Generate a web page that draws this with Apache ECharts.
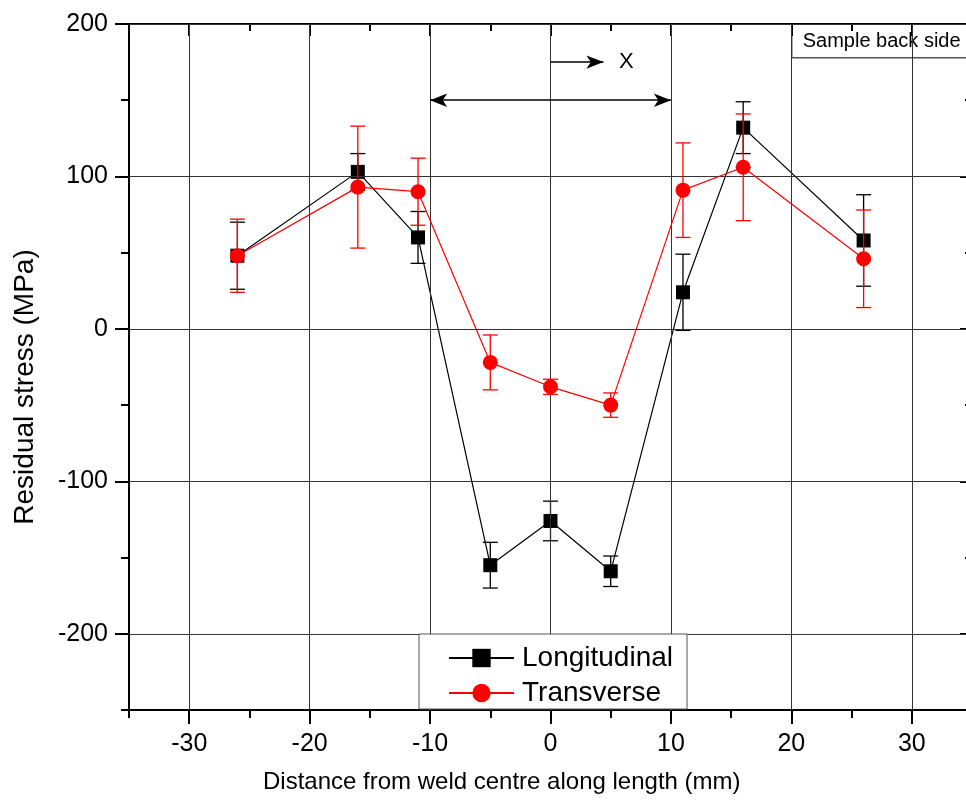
<!DOCTYPE html>
<html>
<head>
<meta charset="utf-8">
<script src="https://cdn.jsdelivr.net/npm/echarts@6/dist/echarts.min.js"></script>
<style>
html,body{margin:0;padding:0;background:#fff;}
#chart{width:966px;height:807px;}
</style>
</head>
<body>
<div id="chart"></div>
<script>
// ---- data ----
var xPositions = [-26, -16, -11, -5, 0, 5, 11, 16, 26];
var longitudinal = [48, 103, 60, -155, -126, -159, 24, 132, 58];
var longitudinalErr = [22, 12, 17, 15, 13, 10, 25, 17, 30];
var transverse = [48, 93, 90, -22, -38, -50, 91, 106, 46];
var transverseErr = [24, 40, 22, 18, 5, 8, 31, 35, 32];

var xMajorTicks = [-30, -20, -10, 0, 10, 20, 30];
var xMinorTicks = [-35, -25, -15, -5, 5, 15, 25, 35];
var yMajorTicks = [-200, -100, 0, 100, 200];
var yMinorTicks = [-250, -150, -50, 50, 150];

var weldZone = [-10, 10];      // double arrow span
var weldZoneY = 150;
var xArrow = [0, 4.4];        // short arrow "X"
var xArrowY = 175;
var xLabelPos = [6.3, 175];

var FONT = '"Liberation Sans", Arial, sans-serif';

function pairs(xs, ys) { return xs.map(function (x, i) { return [x, ys[i]]; }); }
function errData(xs, ys, es) { return xs.map(function (x, i) { return [x, ys[i] - es[i], ys[i] + es[i]]; }); }

function errRender(color) {
  return function (params, api) {
    var x = api.value(0), lo = api.value(1), hi = api.value(2);
    var a = api.coord([x, lo]), b = api.coord([x, hi]);
    var w = 7.5;
    var st = { stroke: color, lineWidth: 1.3 };
    return {
      type: 'group',
      children: [
        { type: 'line', shape: { x1: a[0], y1: a[1], x2: b[0], y2: b[1] }, style: st },
        { type: 'line', shape: { x1: a[0] - w, y1: a[1], x2: a[0] + w, y2: a[1] }, style: st },
        { type: 'line', shape: { x1: b[0] - w, y1: b[1], x2: b[0] + w, y2: b[1] }, style: st }
      ]
    };
  };
}

var gridPos = { left: 129, right: -6, top: 24, bottom: 97, outerBoundsMode: 'none', containLabel: false };
var axisLineStyle = { color: '#000', width: 2 };

var chart = echarts.init(document.getElementById('chart'), null, { renderer: 'canvas' });

var option = {
  animation: false,
  backgroundColor: '#fff',
  grid: [
    Object.assign({}, gridPos),
    Object.assign({}, gridPos)
  ],
  xAxis: [
    { // main bottom
      type: 'value', gridIndex: 0, position: 'bottom', min: -35, max: 35, interval: 5,
      axisLine: { show: true, onZero: false, lineStyle: axisLineStyle },
      axisTick: { show: true, inside: false, length: 14, customValues: xMajorTicks, lineStyle: { color: '#000', width: 2 } },
      axisLabel: { show: true, customValues: xMajorTicks, margin: 22, color: '#000', fontSize: 25, fontFamily: FONT },
      splitLine: { show: true, lineStyle: { color: '#999', type: [1, 3], width: 1 } }
    },
    { // main top
      type: 'value', gridIndex: 0, position: 'top', min: -35, max: 35, interval: 5,
      axisLine: { show: true, onZero: false, lineStyle: axisLineStyle },
      axisTick: { show: true, inside: true, length: 12, customValues: xMajorTicks, lineStyle: { color: '#000', width: 2 } },
      axisLabel: { show: false },
      splitLine: { show: false }
    },
    { // minor bottom
      type: 'value', gridIndex: 1, position: 'bottom', min: -35, max: 35, interval: 5,
      axisLine: { show: false, onZero: false },
      axisTick: { show: true, inside: false, length: 8, customValues: xMinorTicks, lineStyle: { color: '#000', width: 2 } },
      axisLabel: { show: false },
      splitLine: { show: false }
    },
    { // minor top
      type: 'value', gridIndex: 1, position: 'top', min: -35, max: 35, interval: 5,
      axisLine: { show: false, onZero: false },
      axisTick: { show: true, inside: true, length: 7, customValues: xMinorTicks, lineStyle: { color: '#000', width: 2 } },
      axisLabel: { show: false },
      splitLine: { show: false }
    }
  ],
  yAxis: [
    {
      type: 'value', gridIndex: 0, position: 'left', min: -250, max: 200, interval: 50,
      axisLine: { show: true, onZero: false, lineStyle: axisLineStyle },
      axisTick: { show: true, inside: false, length: 14, customValues: yMajorTicks, lineStyle: { color: '#000', width: 2 } },
      axisLabel: { show: true, customValues: yMajorTicks, margin: 21, color: '#000', fontSize: 25, fontFamily: FONT },
      splitLine: { show: true, lineStyle: { color: '#999', type: [1, 3], width: 1 } }
    },
    {
      type: 'value', gridIndex: 0, position: 'right', min: -250, max: 200, interval: 50,
      axisLine: { show: true, onZero: false, lineStyle: axisLineStyle },
      axisTick: { show: true, inside: true, length: 12, customValues: yMajorTicks, lineStyle: { color: '#000', width: 2 } },
      axisLabel: { show: false },
      splitLine: { show: false }
    },
    {
      type: 'value', gridIndex: 1, position: 'left', min: -250, max: 200, interval: 50,
      axisLine: { show: false, onZero: false },
      axisTick: { show: true, inside: false, length: 8, customValues: yMinorTicks, lineStyle: { color: '#000', width: 2 } },
      axisLabel: { show: false },
      splitLine: { show: false }
    },
    {
      type: 'value', gridIndex: 1, position: 'right', min: -250, max: 200, interval: 50,
      axisLine: { show: false, onZero: false },
      axisTick: { show: true, inside: true, length: 7, customValues: yMinorTicks, lineStyle: { color: '#000', width: 2 } },
      axisLabel: { show: false },
      splitLine: { show: false }
    }
  ],
  legend: {
    data: [
      { name: 'Longitudinal' },
      { name: 'Transverse' }
    ],
    orient: 'vertical',
    left: 419, top: 634,
    padding: [10, 14, 2, 29],
    itemGap: 7,
    itemWidth: 65, itemHeight: 23,
    backgroundColor: '#fff',
    borderColor: '#555', borderWidth: 1, borderRadius: 0,
    textStyle: { fontSize: 28, fontFamily: FONT, color: '#000', lineHeight: 28, padding: [0, 0, 0, 3] },
    selectedMode: false,
    z: 10
  },
  graphic: [
    {
      type: 'text', left: 263, top: 770,
      style: { text: 'Distance from weld centre along length (mm)', font: '24px ' + FONT, fill: '#000' }
    },
    {
      type: 'text', x: 25, y: 387, rotation: Math.PI / 2,
      style: { text: 'Residual stress (MPa)', font: '28px ' + FONT, fill: '#000', align: 'center', verticalAlign: 'middle' }
    },
    {
      type: 'group', left: 791, top: 23, z: 20,
      children: [
        { type: 'rect', shape: { x: 0, y: 0, width: 185, height: 34 }, style: { fill: '#fff', stroke: '#555', lineWidth: 1.5 } },
        { type: 'text', x: 11, y: 18, style: { text: 'Sample back side', font: '20px ' + FONT, fill: '#000', verticalAlign: 'middle' } }
      ]
    }
  ],
  series: [
    { // major grid lines
      type: 'line', name: 'gridMajor', xAxisIndex: 0, yAxisIndex: 0, data: [], z: 0, silent: true,
      markLine: {
        silent: true, symbol: ['none', 'none'], animation: false,
        label: { show: false },
        lineStyle: { color: '#333', width: 1, type: 'solid' },
        data: xMajorTicks.map(function (v) { return { xAxis: v }; })
          .concat(yMajorTicks.map(function (v) { return { yAxis: v }; }))
      }
    },
    { type: 'line', name: 'minorHolder', xAxisIndex: 2, yAxisIndex: 2, data: [], silent: true },
    {
      type: 'custom', name: 'LongErr', xAxisIndex: 0, yAxisIndex: 0, z: 3,
      renderItem: errRender('#000'),
      encode: { x: 0, y: [1, 2] },
      data: errData(xPositions, longitudinal, longitudinalErr)
    },
    {
      type: 'line', name: 'Longitudinal', xAxisIndex: 0, yAxisIndex: 0, z: 4,
      data: pairs(xPositions, longitudinal),
      symbol: 'rect', symbolSize: 14,
      itemStyle: { color: '#000' },
      lineStyle: { color: '#000', width: 1.2 }
    },
    {
      type: 'custom', name: 'TransErr', xAxisIndex: 0, yAxisIndex: 0, z: 5,
      renderItem: errRender('#ff0000'),
      encode: { x: 0, y: [1, 2] },
      data: errData(xPositions, transverse, transverseErr)
    },
    {
      type: 'line', name: 'Transverse', xAxisIndex: 0, yAxisIndex: 0, z: 6,
      data: pairs(xPositions, transverse),
      symbol: 'circle', symbolSize: 15,
      itemStyle: { color: '#ff0000' },
      lineStyle: { color: '#ff0000', width: 1.2 }
    },
    { // annotations
      type: 'line', name: 'annot', xAxisIndex: 0, yAxisIndex: 0, data: [], z: 7, silent: true,
      markLine: {
        silent: true, animation: false,
        label: { show: false },
        symbol: ['arrow', 'arrow'], symbolSize: [10, 17],
        lineStyle: { color: '#000', width: 1.5, type: 'solid' },
        data: [
          [{ coord: [weldZone[0], weldZoneY] }, { coord: [weldZone[1], weldZoneY] }],
          [{ coord: [xArrow[0], xArrowY], symbol: 'none' }, { coord: [xArrow[1], xArrowY] }]
        ]
      },
      markPoint: {
        silent: true, animation: false,
        symbol: 'circle', symbolSize: 0,
        label: { show: true, position: 'inside', formatter: 'X', fontSize: 22, fontFamily: FONT, color: '#000' },
        data: [{ coord: xLabelPos }]
      }
    }
  ]
};

chart.setOption(option);
</script>
</body>
</html>
